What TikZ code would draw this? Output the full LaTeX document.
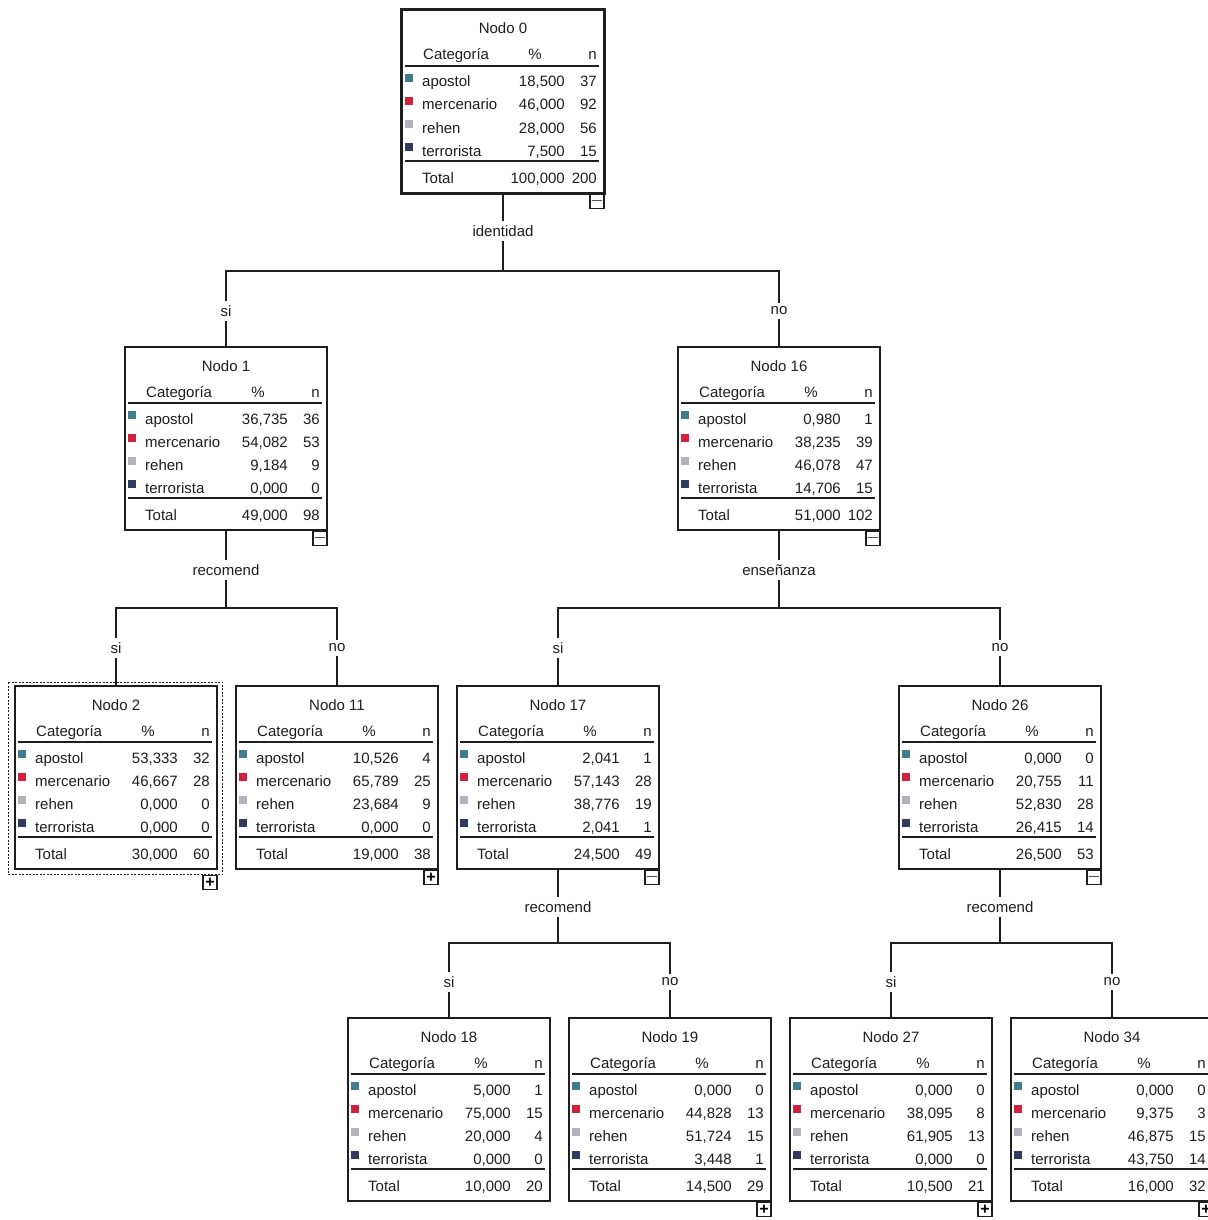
\documentclass[tikz,border=0pt]{standalone}
\usepackage{fontspec}
\setmainfont{Liberation Sans}

\definecolor{tinta}{HTML}{1E1E1E}
\definecolor{capo}{HTML}{3E7C8E}
\definecolor{cmer}{HTML}{D2203F}
\definecolor{creh}{HTML}{B3B1BC}
\definecolor{cter}{HTML}{2E3A5E}

\tikzset{
  caja/.style={draw=tinta, line width=1.5pt, minimum width=202pt, minimum height=183pt, inner sep=0pt},
  texto/.style={font=\fontsize{15}{18}\selectfont, text=tinta, inner sep=0pt},
  rama/.style={texto, inner sep=4pt},
  regla/.style={draw=tinta, line width=1.4pt},
  linea/.style={draw=tinta, line width=1.4pt},
  boton/.style={draw=tinta, line width=1.3pt, minimum size=14pt, inner sep=0pt, font=\fontsize{16}{16}\selectfont\bfseries},
}

\newcommand{\nodo}[7]{%
  \begin{scope}[shift={(#2,#3)}]
    \node[caja] (#1) at (101,91.5) {};
    \node[texto, anchor=base] (#1-tit) at (101,24) {Nodo #4};
    \node[texto, anchor=base west] (#1-cat) at (21,50) {Categoría};
    \node[texto, anchor=base] (#1-pc) at (133,50) {\%};
    \node[texto, anchor=base east] (#1-n) at (195,50) {n};
    \draw[regla] (3,56) -- (197,56);
    \foreach \cat/\col [count=\i] in {apostol/capo,mercenario/cmer,rehen/creh,terrorista/cter} {
      \fill[\col] (3,41+23*\i) rectangle +(8,8);
      \node[texto, anchor=base west] (#1-c\i) at (20,54+23*\i) {\cat};
    }
    \foreach \p/\n [count=\i] in {#5} {
      \node[texto, anchor=base east] (#1-p\i) at (163,54+23*\i) {\p};
      \node[texto, anchor=base east] (#1-q\i) at (195,54+23*\i) {\n};
    }
    \draw[regla] (3,151) -- (197,151);
    \node[texto, anchor=base west] (#1-tot) at (20,173) {Total};
    \node[texto, anchor=base east] (#1-tp) at (163,173) {#6};
    \node[texto, anchor=base east] (#1-tn) at (195,173) {#7};
  \end{scope}
}
\newcommand{\boton}[3]{\node[boton, anchor=north east] (#1) at (#2) {#3};}

\begin{document}
\begin{tikzpicture}[x=1pt,y=-1pt]
        \useasboundingbox[fill=white] (0,0) rectangle (1207,1220);

        \nodo{n0}{402}{10}{0}{{18,500}/37,{46,000}/92,{28,000}/56,{7,500}/15}{100,000}{200}
        \nodo{n1}{125}{347}{1}{{36,735}/36,{54,082}/53,{9,184}/9,{0,000}/0}{49,000}{98}
        \nodo{n16}{678}{347}{16}{{0,980}/1,{38,235}/39,{46,078}/47,{14,706}/15}{51,000}{102}
        \nodo{n2}{15}{686}{2}{{53,333}/32,{46,667}/28,{0,000}/0,{0,000}/0}{30,000}{60}
        \nodo{n11}{236}{686}{11}{{10,526}/4,{65,789}/25,{23,684}/9,{0,000}/0}{19,000}{38}
        \nodo{n17}{457}{686}{17}{{2,041}/1,{57,143}/28,{38,776}/19,{2,041}/1}{24,500}{49}
        \nodo{n26}{899}{686}{26}{{0,000}/0,{20,755}/11,{52,830}/28,{26,415}/14}{26,500}{53}
        \nodo{n18}{348}{1018}{18}{{5,000}/1,{75,000}/15,{20,000}/4,{0,000}/0}{10,000}{20}
        \nodo{n19}{569}{1018}{19}{{0,000}/0,{44,828}/13,{51,724}/15,{3,448}/1}{14,500}{29}
        \nodo{n27}{790}{1018}{27}{{0,000}/0,{38,095}/8,{61,905}/13,{0,000}/0}{10,500}{21}
        \nodo{n34}{1011}{1018}{34}{{0,000}/0,{9,375}/3,{46,875}/15,{43,750}/14}{16,000}{32}

        \draw[tinta, line width=3pt] (n0.north west) rectangle (n0.south east);
        \draw[tinta, line width=1pt, dash pattern=on 2pt off 1.5pt]
          ([xshift=-6pt,yshift=3pt]n2.north west) rectangle ([xshift=5pt,yshift=-5pt]n2.south east);

        \boton{t0}{n0.south east}{$-$}
        \boton{t1}{n1.south east}{$-$}
        \boton{t16}{n16.south east}{$-$}
        \boton{t2}{[yshift=-5pt]n2.south east}{+}
        \boton{t11}{n11.south east}{+}
        \boton{t17}{n17.south east}{$-$}
        \boton{t26}{n26.south east}{$-$}
        \boton{t19}{n19.south east}{+}
        \boton{t27}{n27.south east}{+}
        \boton{t34}{n34.south east}{+}

        \node[rama] (e0) at (503,231) {identidad};
        \coordinate (b0) at (503,271);
        \node[rama] (s1) at (226,311) {si};
        \node[rama] (s16) at (779,311) {no};

        \node[rama] (e1) at (226,570) {recomend};
        \coordinate (b1) at (226,608);
        \node[rama] (s2) at (116,648) {si};
        \node[rama] (s11) at (337,648) {no};

        \node[rama] (e16) at (779,570) {enseñanza};
        \coordinate (b16) at (779,608);
        \node[rama] (s17) at (558,648) {si};
        \node[rama] (s26) at (1000,648) {no};

        \node[rama] (e17) at (558,907) {recomend};
        \coordinate (b17) at (558,943);
        \node[rama] (s18) at (449,982) {si};
        \node[rama] (s19) at (670,982) {no};

        \node[rama] (e26) at (1000,907) {recomend};
        \coordinate (b26) at (1000,943);
        \node[rama] (s27) at (891,982) {si};
        \node[rama] (s34) at (1112,982) {no};

        \draw[linea] (n0) -- (e0) -- (b0);
        \draw[linea] (n1) -- (s1) |- (b0) -| (s16) -- (n16);
        \draw[linea] (n1) -- (e1) -- (b1);
        \draw[linea] (n2) -- (s2) |- (b1) -| (s11) -- (n11);
        \draw[linea] (n16) -- (e16) -- (b16);
        \draw[linea] (n17) -- (s17) |- (b16) -| (s26) -- (n26);
        \draw[linea] (n17) -- (e17) -- (b17);
        \draw[linea] (n18) -- (s18) |- (b17) -| (s19) -- (n19);
        \draw[linea] (n26) -- (e26) -- (b26);
        \draw[linea] (n27) -- (s27) |- (b26) -| (s34) -- (n34);
      \end{tikzpicture}
\end{document}
